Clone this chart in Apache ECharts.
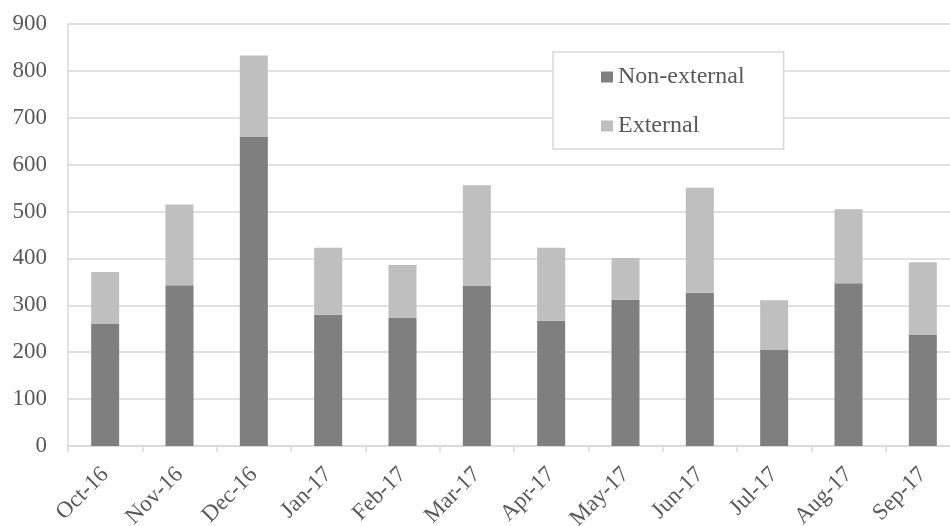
<!DOCTYPE html>
<html>
<head>
<meta charset="utf-8">
<script src="https://cdn.jsdelivr.net/npm/echarts@6/dist/echarts.min.js"></script>
<style>
html,body{margin:0;padding:0;background:#fff;}
#chart{width:950px;height:526px;}
</style>
</head>
<body>
<div id="chart"></div>
<script>
var categories = ['Oct-16','Nov-16','Dec-16','Jan-17','Feb-17','Mar-17','Apr-17','May-17','Jun-17','Jul-17','Aug-17','Sep-17'];
var nonExternal = [261, 343, 660, 280, 274, 341, 267, 312, 327, 206, 347, 238];
var external = [110, 172, 173, 143, 112, 215, 156, 89, 224, 105, 158, 154];
var seriesNames = ['Non-external', 'External'];

var FONT = '"Liberation Serif", "Times New Roman", serif';
var chart = echarts.init(document.getElementById('chart'), null, {renderer: 'canvas'});
chart.setOption({
  animation: false,
  backgroundColor: '#fff',
  grid: {left: 68, top: 24, width: 892, bottom: 80, containLabel: false, outerBoundsMode: 'none'},
  legend: {
    orient: 'vertical',
    left: 553,
    top: 52,
    data: seriesNames,
    icon: 'rect',
    itemWidth: 12,
    itemHeight: 11,
    itemGap: 25,
    padding: [13, 39, 11, 48],
    backgroundColor: '#fff',
    borderColor: '#d9d9d9',
    borderWidth: 1.5,
    textStyle: {fontFamily: FONT, fontSize: 24, color: '#595959', lineHeight: 24}
  },
  xAxis: {
    type: 'category',
    data: categories,
    axisLine: {show: true, lineStyle: {color: '#d9d9d9', width: 1.5}},
    axisTick: {show: true, length: 6, alignWithLabel: false, lineStyle: {color: '#d9d9d9', width: 1.5}},
    axisLabel: {rotate: 45, margin: 25, fontFamily: FONT, fontSize: 23, color: '#595959', interval: 0}
  },
  yAxis: {
    type: 'value',
    min: 0, max: 900, interval: 100,
    axisLine: {show: true, lineStyle: {color: '#d9d9d9', width: 1.5}},
    axisTick: {show: false},
    splitLine: {show: true, lineStyle: {color: '#d9d9d9', width: 1.5}},
    axisLabel: {margin: 21, fontFamily: FONT, fontSize: 23, color: '#595959'}
  },
  series: [
    {name: seriesNames[0], type: 'bar', stack: 'total', data: nonExternal, barWidth: 28, itemStyle: {color: '#7f7f7f'}},
    {name: seriesNames[1], type: 'bar', stack: 'total', data: external, barWidth: 28, itemStyle: {color: '#bfbfbf'}}
  ]
});
</script>
</body>
</html>
